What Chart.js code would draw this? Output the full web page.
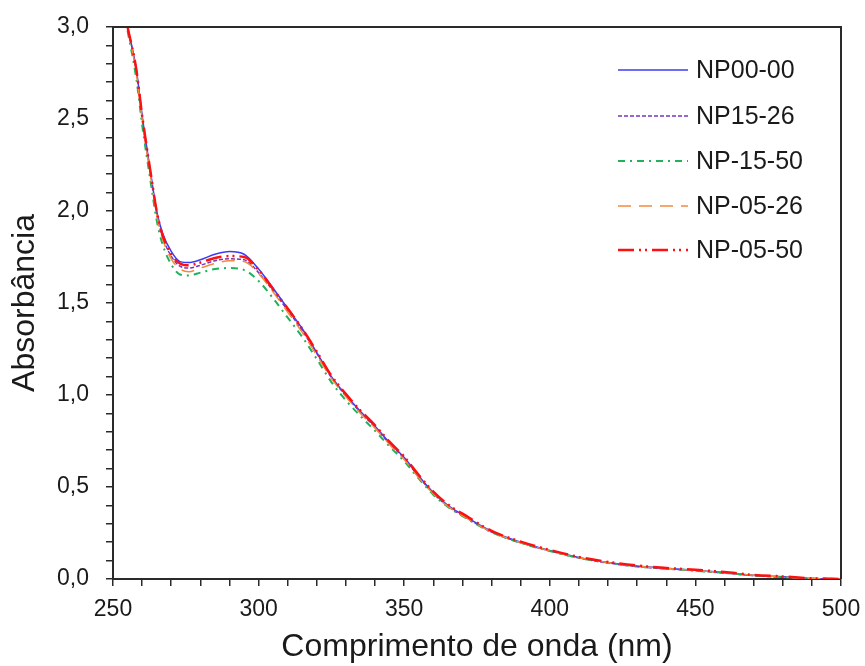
<!DOCTYPE html>
<html>
<head>
<meta charset="utf-8">
<script src="https://cdn.jsdelivr.net/npm/chart.js@4/dist/chart.umd.min.js"></script>
<style>
  html, body { margin: 0; padding: 0; background: #ffffff; }
  #wrap { width: 865px; height: 666px; }
</style>
</head>
<body>
<div id="wrap"><canvas id="c" width="865" height="666"></canvas></div>
<script>
// ---- data ----
const wavelengths = [255,258,260,263,265,267,270,273,276,280,285,290,295,300,305,310,315,320,325,330,335,340,345,350,355,360,365,370,380,390,400,410,420,430,440,450,460,470,480,490,500];
const np0000 = [3.00,2.77,2.52,2.20,2.00,1.88,1.78,1.725,1.72,1.735,1.765,1.78,1.765,1.685,1.58,1.47,1.36,1.23,1.10,1.00,0.91,0.83,0.74,0.66,0.56,0.47,0.40,0.35,0.26,0.20,0.155,0.117,0.09,0.07,0.058,0.048,0.035,0.02,0.012,0.003,0.0];
const np1526 = [3.00,2.76,2.51,2.19,1.99,1.86,1.755,1.70,1.69,1.705,1.73,1.74,1.735,1.665,1.565,1.46,1.35,1.225,1.095,0.995,0.905,0.825,0.735,0.655,0.555,0.465,0.395,0.345,0.255,0.197,0.152,0.114,0.087,0.067,0.055,0.045,0.032,0.018,0.01,0.002,0.0];
const np1550 = [2.98,2.72,2.47,2.15,1.95,1.82,1.71,1.655,1.65,1.665,1.685,1.69,1.68,1.62,1.525,1.42,1.315,1.195,1.07,0.97,0.885,0.805,0.72,0.64,0.545,0.458,0.392,0.342,0.254,0.196,0.152,0.115,0.088,0.068,0.056,0.045,0.033,0.02,0.01,0.003,0.0];
const np0526 = [3.00,2.75,2.50,2.18,1.98,1.85,1.74,1.685,1.67,1.69,1.715,1.73,1.725,1.66,1.56,1.45,1.34,1.215,1.09,0.99,0.90,0.82,0.73,0.65,0.55,0.463,0.395,0.345,0.256,0.198,0.153,0.116,0.089,0.069,0.057,0.047,0.034,0.02,0.011,0.003,0.0];
const np0550 = [3.00,2.77,2.52,2.20,2.00,1.87,1.765,1.715,1.705,1.72,1.745,1.755,1.75,1.68,1.575,1.47,1.36,1.235,1.105,1.005,0.915,0.835,0.745,0.665,0.565,0.475,0.405,0.355,0.262,0.203,0.158,0.12,0.093,0.073,0.06,0.05,0.038,0.022,0.014,0.004,0.0];
const seriesNames = ['NP00-00','NP15-26','NP-15-50','NP-05-26','NP-05-50'];
const xMajorTicks = [250,300,350,400,450,500];
const yMajorTicks = ['0,0','0,5','1,0','1,5','2,0','2,5','3,0'];

// ---- styles ----
const FONT = '"Liberation Sans", Arial, sans-serif';
const styles = [
  { color: '#3b3bf5', dash: [],                  width: 1.5 },
  { color: '#7a35b8', dash: [4, 2],              width: 1.5 },
  { color: '#1fb25a', dash: [7, 5, 2, 5],        width: 2   },
  { color: '#f28a3c', dash: [13, 8],             width: 1.5 },
  { color: '#ff1010', dash: [16, 5, 2, 4, 2, 5], width: 2.5 }
];
const allSeries = [np0000, np1526, np1550, np0526, np0550];

const datasets = allSeries.map((vals, i) => ({
  label: seriesNames[i],
  data: wavelengths.map((w, j) => ({ x: w, y: vals[j] })),
  borderColor: styles[i].color,
  borderDash: styles[i].dash,
  borderWidth: styles[i].width,
  pointRadius: 0,
  fill: false,
  cubicInterpolationMode: 'monotone'
})).reverse();

const frameAndLegend = {
  id: 'frameAndLegend',
  afterDraw(chart) {
    const { ctx, chartArea: a } = chart;
    ctx.save();
    ctx.strokeStyle = '#2a2a2a';
    ctx.lineWidth = 2;
    ctx.setLineDash([]);
    ctx.beginPath();
    ctx.moveTo(a.left, a.top);
    ctx.lineTo(a.right, a.top);
    ctx.lineTo(a.right, a.bottom);
    ctx.stroke();
    // legend
    const x1 = 618, x2 = 688, xt = 696;
    const rows = [70, 116, 161, 206, 250];
    ctx.font = '25px ' + FONT;
    ctx.textBaseline = 'middle';
    ctx.textAlign = 'left';
    seriesNames.forEach((name, i) => {
      const s = styles[i];
      ctx.strokeStyle = s.color;
      ctx.lineWidth = s.width;
      ctx.setLineDash(s.dash);
      ctx.beginPath();
      ctx.moveTo(x1, rows[i]);
      ctx.lineTo(x2, rows[i]);
      ctx.stroke();
      ctx.setLineDash([]);
      ctx.fillStyle = '#1a1a1a';
      ctx.fillText(name, xt, rows[i] + 1);
    });
    ctx.restore();
  }
};

new Chart(document.getElementById('c'), {
  type: 'line',
  data: { datasets },
  plugins: [frameAndLegend],
  options: {
    responsive: false,
    animation: false,
    layout: { padding: { top: 27, right: 24, left: 0, bottom: 0 } },
    plugins: { legend: { display: false }, tooltip: { enabled: false } },
    scales: {
      x: {
        type: 'linear',
        min: 250, max: 500,
        afterFit(scale) { scale.height = 87; scale.paddingRight = 0; scale.paddingLeft = 0; },
        border: { display: true, color: '#2a2a2a', width: 2 },
        grid: { display: true, drawOnChartArea: false, drawTicks: true, tickLength: 7, color: '#2a2a2a', lineWidth: 1.5 },
        ticks: {
          stepSize: 10, autoSkip: false, maxRotation: 0, padding: 10,
          color: '#1a1a1a', font: { family: FONT, size: 23 },
          callback: (v) => xMajorTicks.includes(Math.round(v)) ? String(Math.round(v)) : ''
        },
        title: { display: true, text: 'Comprimento de onda (nm)', color: '#1a1a1a',
                 font: { family: FONT, size: 32 }, padding: { top: 0, bottom: 0 } }
      },
      y: {
        min: 0, max: 3,
        afterFit(scale) { scale.width = 113; scale.paddingTop = 0; scale.paddingBottom = 0; },
        border: { display: true, color: '#2a2a2a', width: 2 },
        grid: { display: true, drawOnChartArea: false, drawTicks: true, tickLength: 7, color: '#2a2a2a', lineWidth: 1.5 },
        ticks: {
          stepSize: 0.1, autoSkip: false, padding: 17,
          color: '#1a1a1a', font: { family: FONT, size: 23 },
          callback: (v) => {
            const t = Math.round(v * 10);
            return t % 5 === 0 ? yMajorTicks[t / 5] : '';
          }
        },
        title: { display: true, text: 'Absorbância', color: '#1a1a1a',
                 font: { family: FONT, size: 32 }, padding: { top: 6, bottom: 0 } }
      }
    }
  }
});
</script>
</body>
</html>
